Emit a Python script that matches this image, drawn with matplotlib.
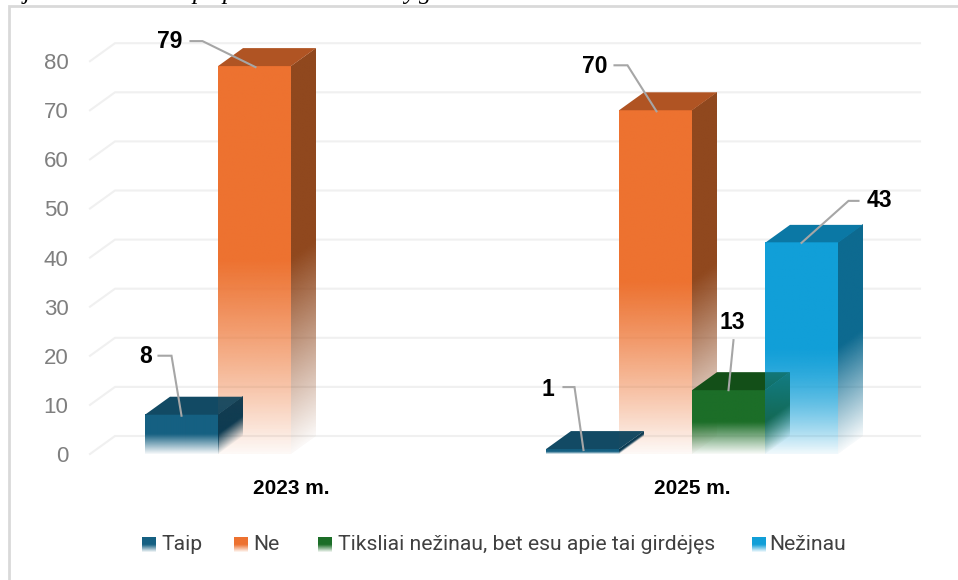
import matplotlib
matplotlib.use('Agg')
import matplotlib.pyplot as plt
from matplotlib.colors import to_rgb
from matplotlib.patches import Polygon
from matplotlib.transforms import Affine2D
import numpy as np

# chart data
years = ['2023 m.', '2025 m.']
series_names = ['Taip', 'Ne', 'Tiksliai nežinau, bet esu apie tai girdėjęs', 'Nežinau']
taip = [8, 1]
ne = [79, 70]
tiksliai = [None, 13]
nezinau = [None, 43]
y_ticks = [0, 10, 20, 30, 40, 50, 60, 70, 80]

series = [taip, ne, tiksliai, nezinau]

# colours: front, top, side, veil of the front laid over the neighbour bar
front_cols = ['#156082', '#ED7230', '#1C6E28', '#119FD8']
top_cols = ['#124A64', '#B05423', '#134F18', '#0B78A5']
side_cols = ['#073A53', '#90481E', '#145A30', '#0D6A90']
veils = [0, 0.2, 0, 0.65]
draw_order = [1, 0, 3, 2]

W, H = 958, 580
PX_X = 401.0    # pixels per group
PX_Y = 4.91     # pixels per unit
bar_w = 73 / PX_X
depth_x = 25 / PX_X
depth_y = 18 / PX_Y
x_min, x_max = (90 - 291) / PX_X, (920 - 291) / PX_X

fig = plt.figure(figsize=(W / 100, H / 100), dpi=100, facecolor='white')
ax = fig.add_axes([90 / W, 1 - 454 / H, 830 / W, 412 / H])
ax.patch.set_visible(False)


def gradient(colour, veil=1.0, n=120):
    """ one column image, solid for the top half, then fading out to the bottom """
    f = (np.arange(n) + 0.5) / n
    rgba = np.ones((n, 1, 4))
    rgba[:, 0, :3] = to_rgb(colour)
    rgba[:, 0, 3] = veil * np.where(f < 0.5, 1.0, 0.03 + 0.97 * (1 - f) / 0.5)
    return rgba


def shaded(x, width, rise, val, colour, veil=1.0):
    """ gradient on a parallelogram: left edge at x, right edge raised by rise """
    shear = Affine2D.from_values(width, rise, 0, val, x, 0)
    ax.imshow(gradient(colour, veil), extent=(0, 1, 0, 1), origin='upper', aspect='auto',
              interpolation='bilinear', transform=shear + ax.transData,
              clip_on=False, zorder=3)


def bar_left(g, s):
    return g - 2 * bar_w + s * bar_w


def draw_bar(g, s, val):
    x = bar_left(g, s)
    shaded(x, bar_w, 0, val, front_cols[s])
    # side face
    shaded(x + bar_w, depth_x, depth_y, val, side_cols[s])
    # top face
    ax.add_patch(Polygon([(x, val), (x + bar_w, val),
                          (x + bar_w + depth_x, val + depth_y), (x + depth_x, val + depth_y)],
                         closed=True, facecolor=top_cols[s], edgecolor='none',
                         clip_on=False, zorder=3))


# grid: diagonal on the side wall, then along the back wall
for t in y_ticks:
    ax.plot([x_min, x_min + depth_x, x_max], [t, t + depth_y, t + depth_y],
            color='#F0F0F0', lw=1.5, zorder=1, clip_on=False, solid_joinstyle='miter')

for g in range(len(years)):
    for s in draw_order:
        if series[s][g] is not None:
            draw_bar(g, s, series[s][g])
    for s in draw_order:
        if series[s][g] is not None and veils[s] > 0:
            shaded(bar_left(g, s), bar_w, 0, series[s][g], front_cols[s], veils[s])

# leader lines, pixel offsets from top centre of the bar: (stub, elbow, tip, label, ha)
leaders = {
    (0, 0): ((-23, -59), (-10, -59), (0, 1), (-29, -58), 'right'),
    (1, 0): ((-64, -25), (-52, -25), (1, 1), (-72, -25), 'right'),
    (0, 1): ((-19, -62), (-8, -62), (1, 1), (-28, -60), 'right'),
    (1, 1): ((-41, -45), (-28, -45), (1, 1), (-48, -44), 'right'),
    (2, 1): ((5, -50), (5, -50), (0, 0), (4, -68), 'center'),
    (3, 1): ((57, -42), (47, -42), (0, 0), (65, -42), 'left'),
}
for (s, g), (stub, elbow, tip, lab, ha) in leaders.items():
    val = series[s][g]
    cx = bar_left(g, s) + bar_w / 2
    pts = [stub, elbow, tip]
    ax.plot([cx + p[0] / PX_X for p in pts], [val - p[1] / PX_Y for p in pts],
            color='#A6A6A6', lw=1.5, zorder=5, clip_on=False, solid_joinstyle='miter')
    ax.text(cx + lab[0] / PX_X, val - lab[1] / PX_Y, str(val), ha=ha, va='center',
            fontsize=16.5, fontweight='bold', family='Liberation Sans', color='black',
            zorder=6)

ax.set_xlim(x_min, x_max)
ax.set_ylim(0, 412 / PX_Y)
ax.set_yticks(y_ticks)
ax.set_xticks(range(len(years)))
ax.set_xticklabels(years, fontsize=15, fontweight='bold', family='Liberation Sans', color='black')
ax.tick_params(axis='y', length=0, pad=15.5, labelsize=16, labelcolor='#7F7F7F')
ax.tick_params(axis='x', length=0, pad=18)
for lab in ax.get_yticklabels():
    lab.set_family('Liberation Sans')
for spine in ax.spines.values():
    spine.set_visible(False)

# legend drawn by hand for the gradient swatches
swatch_x = [142, 234, 318, 752]
text_x = [161, 253, 338, 769]
for s, name in enumerate(series_names):
    sw = fig.add_axes([swatch_x[s] / W, 1 - 552 / H, 14 / W, 15 / H])
    sw.imshow(gradient(front_cols[s], n=40), aspect='auto', interpolation='bilinear')
    sw.axis('off')
    fig.text(text_x[s] / W, 1 - 545 / H, name, ha='left', va='center', fontsize=15.2,
             family='Roboto', color='#404040')

# chart frame, open on the right and at the bottom
fig.add_artist(plt.Line2D([8.5 / W, 8.5 / W, 1], [0, 1 - 6 / H, 1 - 6 / H],
                          color='#D9D9D9', lw=2, solid_joinstyle='miter'))

# descenders of the caption line cut off by the crop
for px, frag in [(24, 'j'), (192, 'p'), (222, 'p'), (404, 'y'), (419, 'g')]:
    fig.text(px / W, 1 + 0.5 / H, frag, ha='left', va='baseline', fontsize=18, style='italic',
             family='Liberation Serif', color='black')

fig.savefig('out.png', dpi=100)
